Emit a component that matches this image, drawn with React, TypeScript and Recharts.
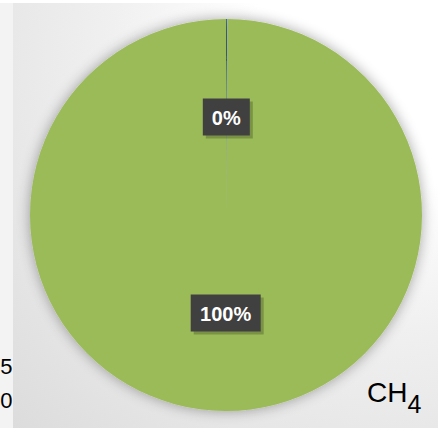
import React from "react";
import { PieChart, Pie, Cell } from "recharts";

const labels = ["other", "CH4"];
const values = [0.1, 99.9];
const shownPercents = ["0%", "100%"];
const colors = ["#4F81BD", "#9BBB59"];
const edgeTicks = ["5", "0"];

const data = labels.map((name, i) => ({ name, value: values[i], shown: shownPercents[i] }));

const RAD = Math.PI / 180;

function renderLabel(props: any) {
  const { cx, cy, midAngle, outerRadius, index } = props;
  const r = outerRadius * 0.5;
  const x = cx + r * Math.cos(-midAngle * RAD);
  const y = cy + r * Math.sin(-midAngle * RAD);
  const text = data[index].shown;
  const w = text.length * 11.5 + 24;
  const h = 37;
  return (
    <g key={`lbl-${index}`}>
      <rect x={x - w / 2 + 3} y={y - h / 2 + 3} width={w} height={h} fill="#000" opacity={0.22} />
      <rect x={x - w / 2} y={y - h / 2} width={w} height={h} fill="#404040" />
      <text
        x={x}
        y={y + 1}
        fill="#ffffff"
        textAnchor="middle"
        dominantBaseline="central"
        fontFamily="Liberation Sans, Arial, sans-serif"
        fontWeight="bold"
        fontSize={20}
      >
        {text}
      </text>
    </g>
  );
}

export default function App() {
  return (
    <div style={{ position: "absolute", left: 0, top: 0, width: 438, height: 433, background: "#ffffff", overflow: "hidden" }}>
      <div style={{ position: "absolute", left: 0, top: 3, width: 13, height: 425, background: "#f3f3f3" }} />
      <div
        style={{
          position: "absolute",
          left: 13,
          top: 3,
          width: 425,
          height: 425,
          background: "radial-gradient(circle at 88% 12%, #ffffff 0%, #ffffff 26%, #f0f0f0 52%, #dcdcdc 100%)",
        }}
      />
      <div style={{ position: "absolute", left: 0, top: 0 }}>
        <PieChart width={438} height={433} margin={{ top: 0, right: 0, bottom: 0, left: 0 }}>
          <defs>
            <filter id="pieShadow" x="-20%" y="-20%" width="140%" height="140%">
              <feGaussianBlur in="SourceAlpha" stdDeviation="7" />
              <feOffset dx="0" dy="0" result="blur" />
              <feComponentTransfer>
                <feFuncA type="linear" slope="0.35" />
              </feComponentTransfer>
              <feMerge>
                <feMergeNode />
                <feMergeNode in="SourceGraphic" />
              </feMerge>
            </filter>
          </defs>
          <Pie
            data={data}
            dataKey="value"
            nameKey="name"
            cx={226}
            cy={215}
            outerRadius={196}
            startAngle={90}
            endAngle={-270}
            stroke="none"
            label={renderLabel}
            labelLine={false}
            isAnimationActive={false}
          >
            {data.map((_, i) => (
              <Cell key={`c-${i}`} fill={colors[i]} filter={i === 1 ? "url(#pieShadow)" : undefined} />
            ))}
          </Pie>
        </PieChart>
      </div>
      <svg width={438} height={433} style={{ position: "absolute", left: 0, top: 0, pointerEvents: "none" }}>
        <g fontFamily="Liberation Sans, Arial, sans-serif" fill="#000">
          <text x={12.5} y={374} fontSize={22} textAnchor="end">{edgeTicks[0]}</text>
          <text x={12.5} y={408} fontSize={22} textAnchor="end">{edgeTicks[1]}</text>
          <text x={367} y={402} fontSize={28}>
            CH<tspan fontSize={25} dy={11}>4</tspan>
          </text>
        </g>
      </svg>
    </div>
  );
}
